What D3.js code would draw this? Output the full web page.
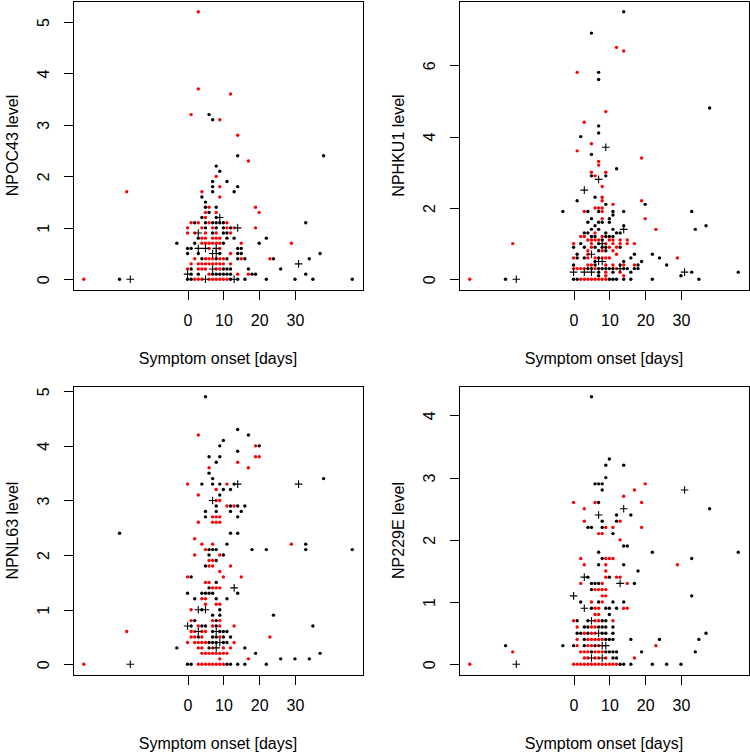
<!DOCTYPE html>
<html>
<head>
<meta charset="utf-8">
<script src="https://cdn.jsdelivr.net/npm/d3@7"></script>
<style>
  html, body { margin: 0; padding: 0; background: #fff; }
  svg { display: block; font-family: "Liberation Sans", Arial, sans-serif; }
</style>
</head>
<body>
<script>
// values: [day since symptom onset, level]
const oc43Black = [[-19,0],[6,3.2],[7,3.1],[14,2.4],[38,2.4],[8,2.2],[9,2.1],[7,1.9],[11,1.9],[7,1.8],[14,1.8],[7,1.7],[13,1.7],[4,1.6],[5,1.5],[5,1.4],[8,1.4],[6,1.3],[4,1.2],[8,1.2],[2,1.1],[5,1.1],[7,1.1],[8,1.1],[9,1.1],[10,1.1],[33,1.1],[5,1],[8,1],[10,1],[12,1],[7,0.9],[10,0.9],[11,0.9],[3,0.8],[11,0.8],[13,0.8],[22,0.8],[-3,0.7],[2,0.7],[10,0.7],[20,0.7],[0,0.6],[1,0.6],[14,0.6],[15,0.6],[0,0.5],[3,0.5],[9,0.5],[14,0.5],[15,0.5],[37,0.5],[4,0.4],[8,0.4],[11,0.4],[14,0.4],[16,0.4],[24,0.4],[34,0.4],[1,0.2],[10,0.2],[11,0.2],[12,0.2],[17,0.2],[26,0.2],[1,0.1],[3,0.1],[7,0.1],[8,0.1],[9,0.1],[10,0.1],[11,0.1],[12,0.1],[18,0.1],[19,0.1],[33,0.1],[0,0],[1,0],[12,0],[14,0],[16,0],[22,0],[30,0],[35,0],[46,0]]
const oc43Red = [[-29,0],[-17,1.7],[3,5.2],[3,3.7],[12,3.6],[1,3.2],[9,3.1],[14,2.8],[17,2.3],[8,2],[9,1.8],[4,1.7],[9,1.6],[6,1.4],[19,1.4],[5,1.3],[8,1.3],[20,1.3],[5,1.2],[1,1.1],[3,1.1],[6,1.1],[11,1.1],[0,1],[4,1],[7,1],[11,1],[13,1],[19,1],[0,0.9],[2,0.9],[5,0.9],[8,0.9],[12,0.9],[4,0.8],[5,0.8],[7,0.8],[8,0.8],[9,0.8],[4,0.7],[5,0.7],[6,0.7],[7,0.7],[8,0.7],[9,0.7],[15,0.7],[29,0.7],[6,0.6],[9,0.6],[12,0.5],[2,0.4],[5,0.4],[6,0.4],[7,0.4],[9,0.4],[10,0.4],[15,0.4],[23,0.4],[1,0.3],[3,0.3],[4,0.3],[5,0.3],[6,0.3],[7,0.3],[8,0.3],[9,0.3],[10,0.3],[12,0.3],[0,0.2],[3,0.2],[4,0.2],[5,0.2],[8,0.2],[9,0.2],[6,0.1],[14,0.1],[17,0.1],[2,0],[3,0],[4,0],[6,0],[7,0],[8,0],[9,0],[10,0],[11,0]]
const oc43Plus = [[-16,0],[9,1.2],[14,1],[3,0.9],[3,0.6],[5,0.6],[8,0.6],[7,0.5],[8,0.5],[31,0.3],[7,0.2],[0,0.1],[5,0],[13,0]]

const hku1Black = [[-19,0],[-3,1.9],[14,7.5],[5,6.9],[7,5.8],[7,5.6],[38,4.8],[7,4.3],[7,4.1],[2,4],[5,3.5],[12,3.1],[5,2.9],[9,2.9],[6,2.3],[1,2.2],[9,2.1],[20,2.1],[4,1.9],[7,1.9],[11,1.9],[14,1.9],[33,1.9],[11,1.8],[5,1.7],[10,1.7],[4,1.6],[7,1.6],[8,1.6],[10,1.6],[6,1.5],[14,1.5],[37,1.5],[5,1.4],[7,1.4],[11,1.4],[34,1.4],[3,1.3],[4,1.3],[9,1.3],[12,1.3],[13,1.3],[5,1.2],[6,1.2],[9,1.2],[10,1.2],[11,1.2],[8,1.1],[2,1],[7,1],[0,0.9],[3,0.9],[6,0.9],[8,0.9],[9,0.9],[13,0.9],[7,0.8],[9,0.8],[1,0.7],[17,0.7],[22,0.7],[1,0.6],[3,0.6],[7,0.6],[16,0.6],[24,0.6],[6,0.5],[14,0.5],[19,0.5],[0,0.4],[6,0.4],[13,0.4],[18,0.4],[26,0.4],[4,0.3],[5,0.3],[7,0.3],[8,0.3],[9,0.3],[10,0.3],[11,0.3],[14,0.3],[15,0.3],[17,0.3],[18,0.3],[7,0.2],[11,0.2],[16,0.2],[33,0.2],[46,0.2],[7,0.1],[30,0.1],[0,0],[1,0],[10,0],[11,0],[12,0],[14,0],[16,0],[22,0],[35,0]]
const hku1Red = [[-29,0],[-17,1],[12,6.5],[14,6.4],[1,5.8],[9,4.7],[3,4.4],[5,3.8],[1,3.6],[19,3.4],[7,3.3],[7,3.2],[5,3],[9,3],[6,2.9],[8,2.6],[8,2.3],[8,2.2],[19,2.2],[11,2.1],[6,2],[7,2],[8,2],[3,1.9],[8,1.9],[8,1.7],[20,1.7],[23,1.4],[6,1.3],[2,1.2],[3,1.2],[8,1.2],[4,1.1],[5,1.1],[6,1.1],[7,1.1],[10,1.1],[11,1.1],[13,1.1],[15,1.1],[0,1],[5,1],[9,1],[11,1],[13,1],[15,1],[17,1],[5,0.9],[10,0.9],[12,0.9],[4,0.8],[8,0.8],[11,0.8],[4,0.7],[12,0.7],[0,0.6],[4,0.6],[6,0.6],[8,0.6],[9,0.6],[10,0.6],[29,0.6],[4,0.4],[5,0.4],[9,0.4],[11,0.4],[14,0.4],[17,0.4],[0,0.3],[1,0.3],[2,0.3],[3,0.3],[6,0.3],[12,0.3],[9,0.2],[13,0.2],[9,0.1],[14,0.1],[2,0],[3,0],[4,0],[5,0],[6,0],[7,0],[8,0],[9,0]]
const hku1Plus = [[-16,0],[9,3.7],[7,2.8],[3,2.5],[14,1.4],[8,1],[5,0.7],[7,0.5],[8,0.5],[13,0.3],[0,0.2],[3,0.2],[5,0.2],[31,0.2]]

const nl63Black = [[-19,2.4],[-3,0.3],[5,4.9],[14,4.3],[17,4.2],[10,4.1],[9,4],[20,4],[14,3.9],[6,3.8],[9,3.8],[8,3.7],[6,3.5],[7,3.4],[38,3.4],[4,3.3],[7,3.3],[9,3.3],[13,3.3],[10,3.2],[12,3.2],[9,3.1],[8,2.9],[12,2.9],[14,2.9],[16,2.9],[5,2.8],[8,2.8],[12,2.8],[15,2.8],[5,2.7],[14,2.7],[12,2.4],[14,2.4],[11,2.2],[33,2.2],[6,2.1],[7,2.1],[8,2.1],[18,2.1],[22,2.1],[33,2.1],[46,2.1],[6,2],[10,2],[8,1.9],[5,1.8],[1,1.6],[8,1.5],[6,1.4],[0,1.3],[4,1.3],[5,1.3],[6,1.3],[7,1.3],[14,1.3],[2,1.2],[8,1.2],[11,1.2],[4,1],[9,1],[7,0.9],[9,0.9],[24,0.9],[2,0.8],[8,0.8],[1,0.7],[4,0.7],[5,0.7],[8,0.7],[35,0.7],[7,0.6],[9,0.6],[10,0.6],[11,0.6],[3,0.5],[7,0.5],[8,0.5],[10,0.5],[12,0.5],[6,0.4],[7,0.4],[8,0.4],[10,0.4],[11,0.4],[6,0.3],[16,0.3],[19,0.2],[37,0.2],[26,0.1],[30,0.1],[34,0.1],[0,0],[1,0],[11,0],[12,0],[14,0],[16,0],[22,0]]
const nl63Red = [[-29,0],[-17,0.6],[3,4.2],[19,4],[19,3.8],[20,3.8],[14,3.7],[6,3.6],[17,3.6],[0,3.3],[11,3.3],[8,3.2],[3,3.1],[8,3],[9,3],[11,2.9],[13,2.9],[7,2.7],[8,2.7],[9,2.7],[3,2.6],[7,2.6],[8,2.6],[9,2.6],[2,2.3],[4,2.2],[7,2.2],[29,2.2],[5,2.1],[2,2],[9,2],[6,1.9],[7,1.9],[6,1.8],[7,1.8],[12,1.8],[9,1.7],[0,1.6],[10,1.6],[15,1.6],[5,1.5],[6,1.5],[7,1.4],[8,1.4],[9,1.4],[4,1.2],[5,1.2],[5,1.1],[8,1.1],[9,1.1],[1,1],[1,0.8],[7,0.8],[9,0.8],[3,0.7],[7,0.7],[9,0.7],[13,0.7],[1,0.6],[2,0.6],[4,0.6],[5,0.6],[1,0.5],[2,0.5],[4,0.5],[9,0.5],[23,0.5],[0,0.4],[2,0.4],[3,0.4],[4,0.4],[5,0.4],[13,0.4],[3,0.3],[4,0.3],[7,0.3],[10,0.3],[12,0.3],[4,0.2],[5,0.2],[6,0.2],[7,0.2],[8,0.2],[9,0.2],[10,0.2],[11,0.2],[9,0.1],[17,0.1],[3,0],[4,0],[5,0],[6,0],[7,0],[8,0],[9,0],[10,0]]
const nl63Plus = [[-16,0],[14,3.3],[31,3.3],[7,3],[13,1.4],[3,1],[5,1],[0,0.7],[3,0.6],[8,0.6],[9,0.4],[8,0.3]]

const e229Black = [[-19,0.3],[-3,0.3],[5,4.3],[10,3.3],[9,3.2],[14,3.2],[9,3],[6,2.9],[7,2.9],[8,2.9],[8,2.8],[7,2.6],[38,2.5],[12,2.4],[16,2.4],[8,2.3],[12,2.3],[4,2.2],[5,2.2],[8,2.2],[11,2.1],[14,1.9],[15,1.9],[7,1.8],[22,1.8],[46,1.8],[8,1.7],[33,1.7],[7,1.6],[14,1.6],[18,1.5],[4,1.4],[10,1.4],[5,1.3],[6,1.3],[7,1.3],[17,1.3],[5,1.2],[33,1.1],[2,1],[7,1],[11,1],[14,1],[5,0.9],[9,0.9],[10,0.9],[12,0.9],[10,0.8],[1,0.7],[4,0.7],[8,0.7],[9,0.7],[3,0.6],[4,0.6],[7,0.6],[8,0.6],[9,0.6],[11,0.6],[1,0.5],[2,0.5],[4,0.5],[8,0.5],[9,0.5],[11,0.5],[37,0.5],[3,0.4],[9,0.4],[10,0.4],[11,0.4],[16,0.4],[24,0.4],[35,0.4],[0,0.3],[3,0.3],[6,0.3],[5,0.2],[9,0.2],[10,0.2],[11,0.2],[12,0.2],[19,0.2],[34,0.2],[11,0.1],[12,0.1],[13,0],[14,0],[16,0],[22,0],[26,0],[30,0]]
const e229Red = [[-29,0],[-17,0.2],[20,2.9],[17,2.8],[14,2.7],[0,2.6],[6,2.6],[19,2.6],[3,2.5],[3,2.3],[13,2.3],[9,2.2],[11,2.2],[19,2.2],[7,2.1],[8,2.1],[13,2],[2,1.7],[9,1.7],[10,1.7],[11,1.7],[3,1.6],[9,1.6],[29,1.6],[9,1.5],[9,1.4],[12,1.4],[13,1.4],[2,1.3],[8,1.3],[15,1.3],[6,1.2],[7,1.2],[8,1.2],[9,1.2],[8,1.1],[9,1.1],[5,1],[8,1],[6,0.9],[7,0.9],[14,0.9],[15,0.9],[6,0.8],[7,0.8],[0,0.7],[6,0.7],[7,0.7],[11,0.7],[1,0.6],[5,0.6],[6,0.6],[3,0.5],[5,0.5],[6,0.5],[1,0.4],[4,0.4],[5,0.4],[6,0.4],[7,0.4],[8,0.4],[1,0.3],[4,0.3],[5,0.3],[7,0.3],[23,0.3],[2,0.2],[3,0.2],[4,0.2],[6,0.2],[7,0.2],[8,0.2],[3,0.1],[4,0.1],[6,0.1],[7,0.1],[9,0.1],[17,0.1],[0,0],[1,0],[2,0],[3,0],[4,0],[5,0],[6,0],[7,0],[8,0],[9,0],[10,0],[11,0],[12,0]]
const e229Plus = [[-16,0],[31,2.8],[14,2.5],[7,2.4],[3,1.4],[13,1.3],[0,1.1],[3,0.9],[5,0.7],[7,0.5],[8,0.3],[9,0.3],[5,0.1],[8,0.1]]

const xTicks = [0, 10, 20, 30]
const xTitle = 'Symptom onset [days]'

const panels = [
    { label: 'NPOC43 level', black: oc43Black, red: oc43Red, plus: oc43Plus, yTicks: [0, 1, 2, 3, 4, 5], left: 73, top: 1 },
    { label: 'NPHKU1 level', black: hku1Black, red: hku1Red, plus: hku1Plus, yTicks: [0, 2, 4, 6], left: 459, top: 1 },
    { label: 'NPNL63 level', black: nl63Black, red: nl63Red, plus: nl63Plus, yTicks: [0, 1, 2, 3, 4, 5], left: 73, top: 386 },
    { label: 'NP229E level', black: e229Black, red: e229Red, plus: e229Plus, yTicks: [0, 1, 2, 3, 4], left: 459, top: 386 }
]

const w = 750
const h = 753
const boxW = 290
const boxH = 289
const fontSize = 16
const fmt = d3.format('d')

const svg = d3.select('body').append('svg')
    .attr('width', w)
    .attr('height', h)

svg.append('rect').attr('width', w).attr('height', h).attr('fill', '#fff')

// R style padding: 4% of the data range on each side
const padded = ext => {
    const r = ext[1] - ext[0]
    return [ext[0] - r * 0.04, ext[1] + r * 0.04]
}

panels.forEach(p => {
    const all = p.black.concat(p.red, p.plus)
    const x = d3.scaleLinear()
        .domain(padded(d3.extent(all, d => d[0])))
        .range([p.left, p.left + boxW])
    const y = d3.scaleLinear()
        .domain(padded(d3.extent(all, d => d[1])))
        .range([p.top + boxH, p.top])

    const g = svg.append('g')
    const bottom = p.top + boxH

    const xAxis = g.append('g')
        .attr('transform', `translate(0, ${bottom})`)
        .call(d3.axisBottom(x).tickValues(xTicks).tickFormat(fmt).tickSize(9.5).tickPadding(14.8))
    xAxis.select('.domain').remove()

    const yAxis = g.append('g')
        .attr('transform', `translate(${p.left}, 0)`)
        .call(d3.axisLeft(y).tickValues(p.yTicks).tickFormat(fmt).tickSize(9.5))
    yAxis.select('.domain').remove()
    yAxis.selectAll('text')
        .attr('transform', 'rotate(-90)')
        .attr('text-anchor', 'middle')
        .attr('x', 0)
        .attr('y', -24.3)
        .attr('dy', 0)

    g.selectAll('.tick line').attr('stroke', '#000').attr('shape-rendering', 'crispEdges')
    g.selectAll('.tick text')
        .attr('fill', '#000')
        .style('font-size', fontSize + 'px')
        .style('font-family', '"Liberation Sans", Arial, sans-serif')

    g.append('rect')
        .attr('x', p.left + 0.5)
        .attr('y', p.top + 0.5)
        .attr('width', boxW)
        .attr('height', boxH)
        .attr('fill', 'none')
        .attr('stroke', '#000')
        .attr('shape-rendering', 'crispEdges')

    g.append('text')
        .attr('x', p.left + boxW / 2)
        .attr('y', bottom + 74)
        .attr('text-anchor', 'middle')
        .style('font-size', fontSize + 'px')
        .text(xTitle)

    g.append('text')
        .attr('transform', `translate(${p.left - 55.5}, ${p.top + boxH / 2}) rotate(-90)`)
        .attr('text-anchor', 'middle')
        .style('font-size', fontSize + 'px')
        .text(p.label)

    g.selectAll('.blk')
        .data(p.black)
        .enter()
        .append('circle')
        .attr('cx', d => x(d[0]))
        .attr('cy', d => y(d[1]))
        .attr('r', 1.7)
        .attr('fill', '#000')

    g.selectAll('.rd')
        .data(p.red)
        .enter()
        .append('circle')
        .attr('cx', d => x(d[0]))
        .attr('cy', d => y(d[1]))
        .attr('r', 1.7)
        .attr('fill', '#ff0000')

    const s = 3.8
    g.selectAll('.pl')
        .data(p.plus)
        .enter()
        .append('path')
        .attr('d', d => {
            const cx = x(d[0]), cy = y(d[1])
            return `M${cx - s},${cy}H${cx + s}M${cx},${cy - s}V${cy + s}`
        })
        .attr('stroke', '#000')
        .attr('stroke-width', 1.1)
        .attr('fill', 'none')
})
</script>
</body>
</html>
